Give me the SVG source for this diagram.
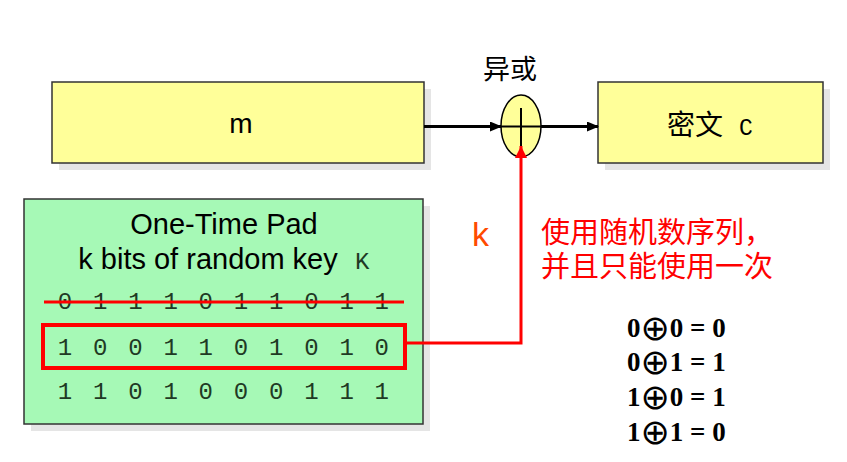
<svg xmlns="http://www.w3.org/2000/svg" width="847" height="462" viewBox="0 0 847 462">
<style>
.shadow{fill:#e5e5e5}
.box{stroke:#333;stroke-width:1.5}
.yellow{fill:#ffff99}
.green{fill:#a6f9b6}
.bits{font-family:"Liberation Mono",monospace;font-size:24px;fill:#1f3a24}
.sans{font-family:"Liberation Sans",Arial,sans-serif}
.cjk{font-family:"Noto Sans CJK SC","Liberation Serif",serif}
.xor{font-family:"Liberation Serif","DejaVu Serif",serif;font-weight:bold;font-size:27px;fill:#000}
.op{font-family:"DejaVu Sans",sans-serif;font-weight:normal;font-size:35px}
</style>
<defs>
<marker id="ab" markerWidth="12" markerHeight="10" refX="11" refY="5" orient="auto" markerUnits="userSpaceOnUse">
<path d="M0,0 L12,5 L0,10 Z" fill="#000"/>
</marker>
<marker id="ar" markerWidth="12" markerHeight="12" refX="12" refY="6" orient="auto" markerUnits="userSpaceOnUse">
<path d="M0,0 L12,6 L0,12 Z" fill="#ff0000"/>
</marker>
</defs>

<g id="node-m">
<rect class="shadow" x="59" y="89" width="372" height="81"/>
<rect class="box yellow" x="52" y="82" width="372" height="81"/>
<text class="sans" x="241" y="133" font-size="28" text-anchor="middle">m</text>
</g>

<g id="node-cipher">
<rect class="shadow" x="605" y="89" width="225" height="81"/>
<rect class="box yellow" x="598" y="82" width="225" height="81"/>
<text class="cjk" x="667" y="135" font-size="28">密文</text>
<text font-family="Liberation Mono,monospace" x="739" y="135" font-size="23">C</text>
</g>

<g id="node-xor">
<text class="cjk" x="510" y="79" font-size="27" text-anchor="middle">异或</text>
<ellipse cx="521" cy="126" rx="20" ry="31" fill="#ffff99" stroke="#000" stroke-width="1.5"/>
<line x1="501" y1="126.5" x2="541" y2="126.5" stroke="#000" stroke-width="2"/>
<line x1="521" y1="108" x2="521" y2="150" stroke="#000" stroke-width="2"/>
</g>

<g id="node-pad">
<rect class="shadow" x="31" y="206" width="399" height="225"/>
<rect class="box green" x="24" y="199" width="399" height="225"/>
<text class="sans" x="224" y="234" font-size="29" text-anchor="middle">One-Time Pad</text>
<text class="sans" x="208" y="269" font-size="29" text-anchor="middle">k bits of random key</text>
<text font-family="Liberation Mono,monospace" x="355" y="269" font-size="24" fill="#1f3a24">K</text>
<text class="bits" x="57.8 93 128.2 163.4 198.6 233.8 269 304.2 339.4 374.6" y="309">0111011011</text>
<line x1="44" y1="302" x2="404" y2="302" stroke="#ff0000" stroke-width="3"/>
<text class="bits" x="57.8 93 128.2 163.4 198.6 233.8 269 304.2 339.4 374.6" y="355">1001101010</text>
<rect x="43" y="325" width="362" height="43" fill="none" stroke="#ff0000" stroke-width="4"/>
<text class="bits" x="57.8 93 128.2 163.4 198.6 233.8 269 304.2 339.4 374.6" y="399">1101000111</text>
</g>

<g id="connectors">
<line x1="424" y1="126.5" x2="501" y2="126.5" stroke="#000" stroke-width="3" marker-end="url(#ab)"/>
<line x1="541" y1="126.5" x2="598" y2="126.5" stroke="#000" stroke-width="3" marker-end="url(#ab)"/>
<polyline points="405,343 521,343 521,146" fill="none" stroke="#ff0000" stroke-width="3" marker-end="url(#ar)"/>
</g>

<g id="labels">
<text class="sans" x="472" y="246" font-size="34" fill="#ff4a00">k</text>
<text class="cjk" x="541" y="243" font-size="29" fill="#ff0000">使用随机数序列，</text>
<text class="cjk" x="541" y="277" font-size="29" fill="#ff0000">并且只能使用一次</text>
<text class="xor" x="627" y="337">0<tspan class="op" dy="3">⊕</tspan><tspan dy="-3">0 = 0</tspan></text>
<text class="xor" x="627" y="371">0<tspan class="op" dy="3">⊕</tspan><tspan dy="-3">1 = 1</tspan></text>
<text class="xor" x="627" y="406">1<tspan class="op" dy="3">⊕</tspan><tspan dy="-3">0 = 1</tspan></text>
<text class="xor" x="627" y="441">1<tspan class="op" dy="3">⊕</tspan><tspan dy="-3">1 = 0</tspan></text>
</g>
</svg>
